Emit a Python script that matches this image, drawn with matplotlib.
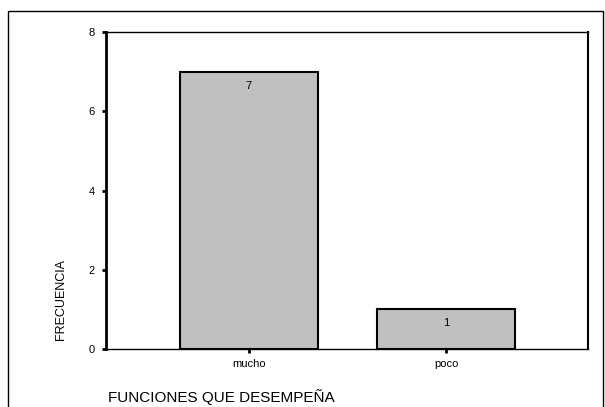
import matplotlib.pyplot as plt
from matplotlib.patches import Rectangle

categorias = ['mucho', 'poco']
frecuencia = [7, 1]
yticks = [0, 2, 4, 6, 8]

fig = plt.figure(figsize=(6.05, 4.07), dpi=100)
ax = fig.add_axes([106/605, 1 - 349/407, 482/605, 317/407])

x = list(range(len(categorias)))
bars = ax.bar(x, frecuencia, width=0.70, color='#c0c0c0', edgecolor='black', linewidth=1.5)
for b, v in zip(bars, frecuencia):
    ax.annotate(str(v), (b.get_x() + b.get_width()/2, v), xytext=(0, -10),
                textcoords='offset points', ha='center', va='center',
                fontsize=8, family='Liberation Sans')

ax.set_xlim(-0.725, 1.72)
ax.set_ylim(0, 8)
ax.set_yticks(yticks)
ax.set_yticklabels([str(t) for t in yticks], family='Liberation Sans', fontsize=8)
ax.set_xticks(x)
ax.set_xticklabels(categorias, family='Liberation Sans', fontsize=8)
ax.tick_params(axis='y', direction='out', length=3, width=2, pad=5)
ax.tick_params(axis='x', direction='out', length=3, width=2, pad=4)

ax.spines['left'].set_linewidth(2)
ax.spines['right'].set_linewidth(1.5)
ax.spines['top'].set_linewidth(1)
ax.spines['bottom'].set_linewidth(1)

ax.set_ylabel('FRECUENCIA', family=['Liberation Sans Narrow', 'Liberation Sans'],
              fontsize=9, stretch='condensed')
ax.yaxis.set_label_coords(-0.081, 0.155)
ax.yaxis.label.set_va('bottom')

fig.text(108/605, 1 - 397/407, 'FUNCIONES QUE DESEMPEÑA', family='Liberation Sans',
         fontsize=11, va='center', ha='left')

fig.patches.append(Rectangle((8/605, -0.1), 595/605, 1.1 - 11/407, transform=fig.transFigure,
                             fill=False, edgecolor='black', linewidth=1))

fig.savefig('out.png', dpi=100)
